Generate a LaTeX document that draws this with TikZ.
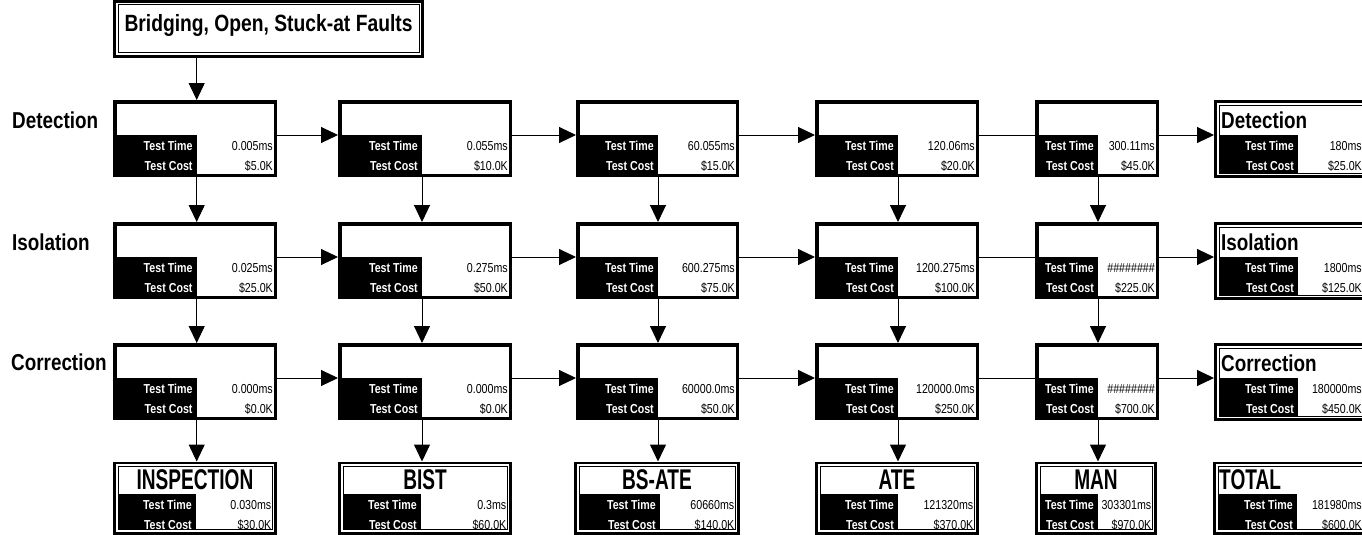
\documentclass[tikz,border=0pt]{standalone}
\usepackage{fontspec}
\setmainfont{Liberation Sans}[FakeStretch=0.82]
\newfontfamily\titlefont{Liberation Sans}[FakeStretch=0.67]
\usetikzlibrary{arrows.meta}
\pgfdeclarelayer{back}
\pgfdeclarelayer{bg}
\pgfsetlayers{back,bg,main}
\tikzset{
  stage/.style={draw, line width=3.5pt, fill=white, inner sep=0pt},
  dstage/.style={draw, line width=2.7pt, fill=white, inner sep=0pt},
  innerline/.style={line width=1pt},
  lbl/.style={text=white, font=\fontsize{13}{13}\selectfont\bfseries, inner sep=0pt},
  val/.style={text=black, font=\fontsize{13}{13}\selectfont, inner sep=0pt},
  rowlabel/.style={font=\fontsize{23}{23}\selectfont\bfseries, inner sep=0pt, anchor=base west},
  rtitle/.style={font=\fontsize{23}{23}\selectfont\bfseries, inner sep=0pt, anchor=base west},
  btitle/.style={font=\fontsize{28.5}{28.5}\selectfont\titlefont\bfseries, inner sep=0pt, anchor=base},
  toptitle/.style={font=\fontsize{23.5}{23.5}\selectfont\bfseries, inner sep=0pt, anchor=base},
  arr/.style={line width=1pt, -{Triangle[length=17pt,width=16pt]}},
}
% plain stage box: name, left, top, right, blackright, time, cost
\newcommand{\stagebox}[7]{%
  \node[stage, anchor=north west, minimum width={#4-#2-3.5}, minimum height=73.5] (#1) at (#2,-#3) {};
  \fill (#2,-#3-35) rectangle (#5,-#3-77);
  \coordinate (#1v) at (#5,-#3);
  \coordinate (#1h) at (#2,-#3-35);
  \node[lbl, anchor=base east] (#1tl) at (#5-4,-#3-50) {Test Time};
  \node[lbl, anchor=base east] (#1cl) at (#5-4,-#3-70) {Test Cost};
  \node[val, anchor=base east] (#1tv) at (#4-4,-#3-50) {#6};
  \node[val, anchor=base east] (#1cv) at (#4-4,-#3-70) {#7};
}
% double-bordered box: name, left, top, right, blackright, height, blackoffset, time, cost
\newcommand{\dstagebox}[9]{%
  \node[dstage, anchor=north west, minimum width={#4-#2-2.7}, minimum height={#6-2.7}] (#1) at (#2,-#3) {};
  \draw[innerline] (#2+5,-#3-5) rectangle (#4-5,-#3-#6+5);
  \fill (#2+4.5,-#3-#7) rectangle (#5,-#3-#6+4.5);
  \coordinate (#1v) at (#5,-#3);
  \coordinate (#1h) at (#2,-#3-#7);
  \node[lbl, anchor=base east] (#1tl) at (#5-4,-#3-#7-15.5) {Test Time};
  \node[lbl, anchor=base east] (#1cl) at (#5-4,-#3-#7-35) {Test Cost};
  \node[val, anchor=base east] (#1tv) at (#4-5.5,-#3-#7-15.5) {#8};
  \node[val, anchor=base east] (#1cv) at (#4-5.5,-#3-#7-35) {#9};
}
\begin{document}
\begin{tikzpicture}[x=1pt,y=1pt]
\begin{pgfonlayer}{back}
\fill[white] (0,0) rectangle (1362,-535);
\end{pgfonlayer}
\useasboundingbox (0,0) rectangle (1362,-535);

% top box
\node[dstage, anchor=north west, minimum width={424-113-2.7}, minimum height={58-2.7}] (top) at (113,0) {};
\draw[innerline] (118,-5) rectangle (419,-53);
\node[toptitle] (toptext) at (268.5,-32) {Bridging, Open, Stuck-at Faults};

% row labels
\node[rowlabel] (ldet) at (12,-128) {Detection};
\node[rowlabel] (liso) at (12,-250) {Isolation};
\node[rowlabel] (lcor) at (11,-370) {Correction};

% row 1
\stagebox{b11}{113}{100}{277}{196.7}{0.005ms}{\$5.0K}
\stagebox{b12}{338}{100}{512}{422}{0.055ms}{\$10.0K}
\stagebox{b13}{576}{100}{739}{658}{60.055ms}{\$15.0K}
\stagebox{b14}{815}{100}{979}{898}{120.06ms}{\$20.0K}
\stagebox{b15}{1035}{100}{1159}{1098}{300.11ms}{\$45.0K}
\dstagebox{r1}{1214}{100}{1367.5}{1298}{78}{35}{180ms}{\$25.0K}
\node[rtitle] (r1t) at (1221,-128) {Detection};

% row 2
\stagebox{b21}{113}{222}{277}{196.7}{0.025ms}{\$25.0K}
\stagebox{b22}{338}{222}{512}{422}{0.275ms}{\$50.0K}
\stagebox{b23}{576}{222}{739}{658}{600.275ms}{\$75.0K}
\stagebox{b24}{815}{222}{979}{898}{1200.275ms}{\$100.0K}
\stagebox{b25}{1035}{222}{1159}{1098}{\#\#\#\#\#\#\#\#}{\$225.0K}
\dstagebox{r2}{1214}{222}{1367.5}{1298}{78}{35}{1800ms}{\$125.0K}
\node[rtitle] (r2t) at (1221,-250) {Isolation};

% row 3
\stagebox{b31}{113}{343}{277}{196.7}{0.000ms}{\$0.0K}
\stagebox{b32}{338}{343}{512}{422}{0.000ms}{\$0.0K}
\stagebox{b33}{576}{343}{739}{658}{60000.0ms}{\$50.0K}
\stagebox{b34}{815}{343}{979}{898}{120000.0ms}{\$250.0K}
\stagebox{b35}{1035}{343}{1159}{1098}{\#\#\#\#\#\#\#\#}{\$700.0K}
\dstagebox{r3}{1214}{343}{1367.5}{1298}{78}{35}{180000ms}{\$450.0K}
\node[rtitle] (r3t) at (1221,-371) {Correction};

% bottom row
\dstagebox{i1}{113}{461.5}{277}{196}{73}{32.5}{0.030ms}{\$30.0K}
\node[btitle] (i1t) at (195,-489) {INSPECTION};
\dstagebox{i2}{338}{461.5}{512}{421}{73}{32.5}{0.3ms}{\$60.0K}
\node[btitle] (i2t) at (425,-489) {BIST};
\dstagebox{i3}{574}{461.5}{740}{660}{73}{32.5}{60660ms}{\$140.0K}
\node[btitle] (i3t) at (657,-489) {BS-ATE};
\dstagebox{i4}{815}{461.5}{979}{898}{73}{32.5}{121320ms}{\$370.0K}
\node[btitle] (i4t) at (897,-489) {ATE};
\dstagebox{i5}{1035}{461.5}{1157}{1098}{73}{32.5}{303301ms}{\$970.0K}
\node[btitle] (i5t) at (1096,-489) {MAN};
\dstagebox{i6}{1213}{461.5}{1367.5}{1297}{73}{32.5}{181980ms}{\$600.0K}
\node[btitle, anchor=base west] (i6t) at (1219,-489) {TOTAL};

% connectors
\begin{pgfonlayer}{bg}
\draw[arr] (b11v |- top.south) -- (b11v |- b11.north);
\foreach \r in {1,2,3}{
  \draw[arr] (b\r1.east |- b\r1h) -- (b\r2.west |- b\r1h);
  \draw[arr] (b\r2.east |- b\r2h) -- (b\r3.west |- b\r2h);
  \draw[arr] (b\r3.east |- b\r3h) -- (b\r4.west |- b\r3h);
  \draw[arr] (b\r4.east |- b\r4h) -- (r\r.west |- b\r4h);
}
\foreach \c in {1,...,5}{
  \draw[arr] (b1\c v |- b1\c.south) -- (b1\c v |- b2\c.north);
  \draw[arr] (b2\c v |- b2\c.south) -- (b2\c v |- b3\c.north);
  \draw[arr] (b3\c v |- b3\c.south) -- (b3\c v |- i\c.north);
}
\end{pgfonlayer}
\end{tikzpicture}
\end{document}
